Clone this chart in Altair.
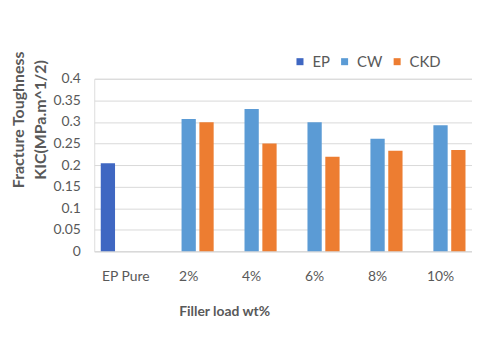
import altair as alt
import pandas as pd

categories = ["EP Pure", "2%", "4%", "6%", "8%", "10%"]
series = ["EP", "CW", "CKD"]
ep_vals = [0.204, None, None, None, None, None]
cw_vals = [None, 0.307, 0.330, 0.299, 0.261, 0.292]
ckd_vals = [None, 0.299, 0.250, 0.219, 0.233, 0.235]
colors = ["#3f67c2", "#5b9bd5", "#ed7d31"]

rows = []
for s, vals in zip(series, [ep_vals, cw_vals, ckd_vals]):
    for c, v in zip(categories, vals):
        if v is not None:
            rows.append({"cat": c, "series": s, "value": v})
df = pd.DataFrame(rows)

FONT = "Lato"
TXT = "#595959"

chart = alt.Chart(df).mark_bar().encode(
    x=alt.X("cat:N", sort=categories,
            scale=alt.Scale(paddingInner=0.15, paddingOuter=0.075),
            axis=alt.Axis(title="Filler load wt%", labelAngle=0, ticks=False,
                          domainColor="#d9d9d9", labelPadding=18,
                          labelFontSize=14, labelColor=TXT, labelFont=FONT,
                          titleFontSize=14, titleFont=FONT, titleFontWeight="bold",
                          titleColor=TXT, titleX=131, titleY=61,
                          titleAlign="center", titleBaseline="middle")),
    xOffset=alt.XOffset("series:N", sort=series,
                        scale=alt.Scale(domain=series, paddingInner=0.2, paddingOuter=0.1)),
    y=alt.Y("value:Q",
            scale=alt.Scale(domain=[0, 0.4], nice=False),
            axis=alt.Axis(title=["Fracture Toughness", "KIC(MPa.m^1/2)"],
                          values=[0, 0.05, 0.1, 0.15, 0.2, 0.25, 0.3, 0.35, 0.4],
                          format="~g", domain=False, ticks=False,
                          gridColor="#d9d9d9", labelPadding=14,
                          labelFontSize=14, labelColor=TXT, labelFont=FONT,
                          titleFontSize=16, titleFont=FONT, titleFontWeight="bold",
                          titleColor=TXT, titleAngle=-90, titleX=-76, titleY=41,
                          titleAlign="center", titleBaseline="middle",
                          titleLineHeight=22)),
    color=alt.Color("series:N", sort=series,
                    scale=alt.Scale(domain=series, range=colors),
                    legend=alt.Legend(title=None, orient="none", direction="horizontal",
                                      legendX=200, legendY=-25,
                                      symbolType="square", symbolSize=50,
                                      symbolStrokeWidth=0,
                                      labelFontSize=15, labelColor=TXT, labelFont=FONT,
                                      columnPadding=7, labelOffset=5)),
).properties(
    width=381, height=174,
    autosize=alt.AutoSizeParams(type="none"),
    padding={"left": 87, "top": 70, "right": 0, "bottom": 80},
).configure_view(stroke=None).configure(background="white")

chart.save("out.html", embed_options={"renderer": "svg", "actions": False})
